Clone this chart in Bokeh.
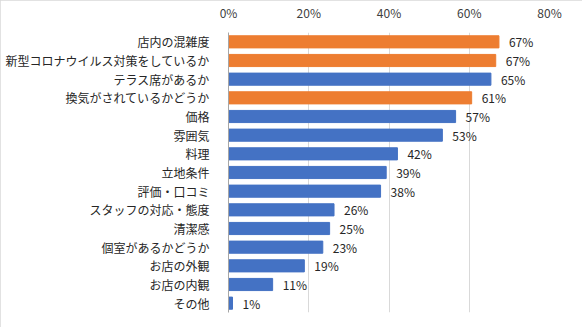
from bokeh.plotting import figure
from bokeh.models import FactorRange, ColumnDataSource, FixedTicker, CustomJSTickFormatter
from bokeh.core.properties import value
from bokeh.embed import file_html
from bokeh.resources import INLINE

categories = ["店内の混雑度", "新型コロナウイルス対策をしているか", "テラス席があるか", "換気がされているかどうか",
              "価格", "雰囲気", "料理", "立地条件", "評価・口コミ", "スタッフの対応・態度", "清潔感",
              "個室があるかどうか", "お店の外観", "お店の内観", "その他"]
values = [67.4, 66.6, 65.4, 60.6, 56.6, 53.3, 42.1, 39.3, 37.9, 26.3, 25.2, 23.5, 18.9, 11.0, 1.0]
labels = ["67%", "67%", "65%", "61%", "57%", "53%", "42%", "39%", "38%", "26%", "25%", "23%", "19%", "11%", "1%"]
highlight = ["hi", "hi", "lo", "hi", "lo", "lo", "lo", "lo", "lo", "lo", "lo", "lo", "lo", "lo", "lo"]
ticks = [0, 20, 40, 60, 80]

color_map = {"hi": "#ED7D31", "lo": "#4472C4"}
colors = [color_map[h] for h in highlight]

src = ColumnDataSource(dict(cat=categories, val=values, lab=labels, color=colors))

p = figure(width=582, height=327, output_backend="svg", toolbar_location=None,
           y_range=FactorRange(factors=list(reversed(categories)), range_padding=0),
           x_range=(0, 80), x_axis_location="above",
           min_border_left=228, min_border_right=33, min_border_top=31, min_border_bottom=15)

p.hbar(y="cat", right="val", left=0, height=0.65, color="color", source=src)
p.text(x="val", y="cat", text="lab", source=src, x_offset=10, text_baseline="middle",
       text_font=value("Noto Sans CJK JP"), text_font_size="12px", text_color="#262626")

p.xaxis.ticker = FixedTicker(ticks=ticks)
p.xaxis.formatter = CustomJSTickFormatter(code="return tick + '%';")
p.xaxis.axis_line_color = None
p.xaxis.major_tick_line_color = None
p.xaxis.minor_tick_line_color = None
p.xaxis.major_label_standoff = 6
p.xaxis.major_label_text_font = "Noto Sans CJK JP"
p.xaxis.major_label_text_font_size = "12px"
p.xaxis.major_label_text_color = "#404040"

p.yaxis.axis_line_color = "#a6a6a6"
p.yaxis.major_tick_line_color = None
p.yaxis.minor_tick_line_color = None
p.yaxis.major_label_standoff = 13
p.yaxis.major_label_text_font = "Noto Sans CJK JP"
p.yaxis.major_label_text_font_size = "12px"
p.yaxis.major_label_text_color = "#262626"

p.ygrid.grid_line_color = None
p.xgrid.grid_line_color = "#d9d9d9"
p.xgrid.ticker = FixedTicker(ticks=ticks)
p.outline_line_color = None
p.styles = {"outline": "1px solid #d9d9d9", "outline-offset": "-1px"}

open("out.html", "w").write(file_html(p, INLINE))
